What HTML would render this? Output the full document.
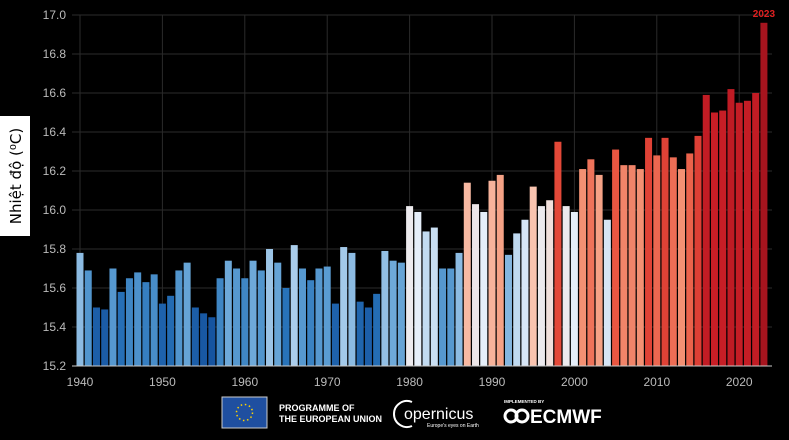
<!DOCTYPE html>
<html><head><meta charset="utf-8"><style>
body{margin:0;background:#000;width:789px;height:440px;overflow:hidden;font-family:"Liberation Sans","DejaVu Sans",sans-serif}
svg{display:block}
</style></head><body>
<svg id="c" width="789" height="440">
<rect x="0" y="0" width="789" height="440" fill="#000"/>
<rect x="0" y="116" width="30" height="120" fill="#fff"/>
<text x="21" y="176" transform="rotate(-90 21 176)" text-anchor="middle" font-size="15" fill="#000" font-family="'DejaVu Sans',sans-serif">Nhiệt độ (⁰C)</text>
<g id="grid"></g><g id="bars"></g><g id="axes"></g>
<g>
<rect x="222" y="397" width="45" height="31" fill="#1f4fa0" stroke="#ccc" stroke-width="1"/>
<circle cx="244.5" cy="412.5" r="8" fill="none" stroke="#ffd400" stroke-width="1.5" stroke-dasharray="1.5 2.7"/>
<text x="279" y="411" font-size="9" font-weight="bold" fill="#fff">PROGRAMME OF</text>
<text x="279" y="422" font-size="9" font-weight="bold" fill="#fff">THE EUROPEAN UNION</text>
</g>
<g>
<path d="M412 402 A13 13 0 1 0 412 426" fill="none" stroke="#fff" stroke-width="2"/>
<text x="404" y="419" font-size="16" fill="#fff">opernicus</text>
<text x="427" y="427" font-size="5" fill="#fff">Europe's eyes on Earth</text>
</g>
<g>
<text x="504" y="403" font-size="4.5" font-weight="bold" fill="#fff">IMPLEMENTED BY</text>
<circle cx="511" cy="416" r="6" fill="none" stroke="#fff" stroke-width="3"/>
<circle cx="522" cy="416" r="6" fill="none" stroke="#fff" stroke-width="3"/>
<text x="530" y="423" font-size="19" font-weight="bold" fill="#fff">ECMWF</text>
</g>
</svg>
<script>
const years=[];for(let y=1940;y<=2023;y++)years.push(y);
const temps=[15.78,15.69,15.50,15.49,15.70,15.58,15.65,15.68,15.63,15.67,
15.52,15.56,15.69,15.73,15.50,15.47,15.45,15.65,15.74,15.70,
15.65,15.74,15.69,15.80,15.73,15.60,15.82,15.70,15.64,15.70,
15.71,15.52,15.81,15.78,15.53,15.50,15.57,15.79,15.74,15.73,
16.02,15.99,15.89,15.91,15.70,15.70,15.78,16.14,16.03,15.99,
16.15,16.18,15.77,15.88,15.95,16.12,16.02,16.05,16.35,16.02,
15.99,16.21,16.26,16.18,15.95,16.31,16.23,16.23,16.21,16.37,
16.28,16.37,16.27,16.21,16.29,16.38,16.59,16.50,16.51,16.62,
16.55,16.56,16.60,16.96];
const yTicks=[15.2,15.4,15.6,15.8,16.0,16.2,16.4,16.6,16.8,17.0];
const xTicks=[1940,1950,1960,1970,1980,1990,2000,2010,2020];
const X=y=>80+(y-1940)*8.24;
const Y=v=>366-(v-15.2)*(351/1.8);
const ns="http://www.w3.org/2000/svg";
function mk(t,a,p){const e=document.createElementNS(ns,t);for(const k in a)e.setAttribute(k,a[k]);p.appendChild(e);return e;}
const stops=[[15.45,[22,84,160]],[15.6,[40,115,185]],[15.72,[95,160,212]],[15.82,[170,205,235]],[16.0,[232,240,250]],[16.1,[250,208,190]],[16.2,[244,150,120]],[16.32,[232,80,60]],[16.5,[200,30,38]],[16.97,[165,20,30]]];
function col(v){if(v<=stops[0][0])return`rgb(${stops[0][1]})`;for(let i=1;i<stops.length;i++){if(v<=stops[i][0]){const a=stops[i-1],b=stops[i],t=(v-a[0])/(b[0]-a[0]);return`rgb(${a[1].map((c,j)=>Math.round(c+(b[1][j]-c)*t)).join(',')})`;}}return`rgb(${stops[stops.length-1][1]})`;}
const grid=document.getElementById('grid'),bars=document.getElementById('bars'),axes=document.getElementById('axes');
yTicks.forEach(t=>{
const l=mk('line',{x1:72,x2:772,y1:Y(t),y2:Y(t),stroke:'#2b2b2b','stroke-width':1},grid);


const tx=mk('text',{x:66,y:Y(t)+4,'text-anchor':'end','font-size':12,fill:'#bbb'},axes);
tx.textContent=t.toFixed(1);


});
xTicks.forEach(t=>{
const l=mk('line',{x1:X(t),x2:X(t),y1:Y(17.0),y2:Y(15.2),stroke:'#2b2b2b','stroke-width':1},grid);


const tx=mk('text',{x:X(t),y:386,'text-anchor':'middle','font-size':12,fill:'#bbb'},axes);
tx.textContent=t;


});
const ax=mk('line',{x1:72,x2:772,y1:Y(15.2),y2:Y(15.2),stroke:'#ccc','stroke-width':1},axes);


years.forEach((y,i)=>{
const v=temps[i];
const r=mk('rect',{x:X(y)-3.5,y:Y(v),width:7,height:Y(15.2)-Y(v),fill:col(v)},bars);


});
const last=years.length-1;
const lb=mk('text',{x:X(years[last]),y:Y(temps[last])-6,'text-anchor':'middle','font-size':10,'font-weight':'bold',fill:'#e02020'},axes);
lb.textContent=String(years[last]);


</script>
</body></html>
